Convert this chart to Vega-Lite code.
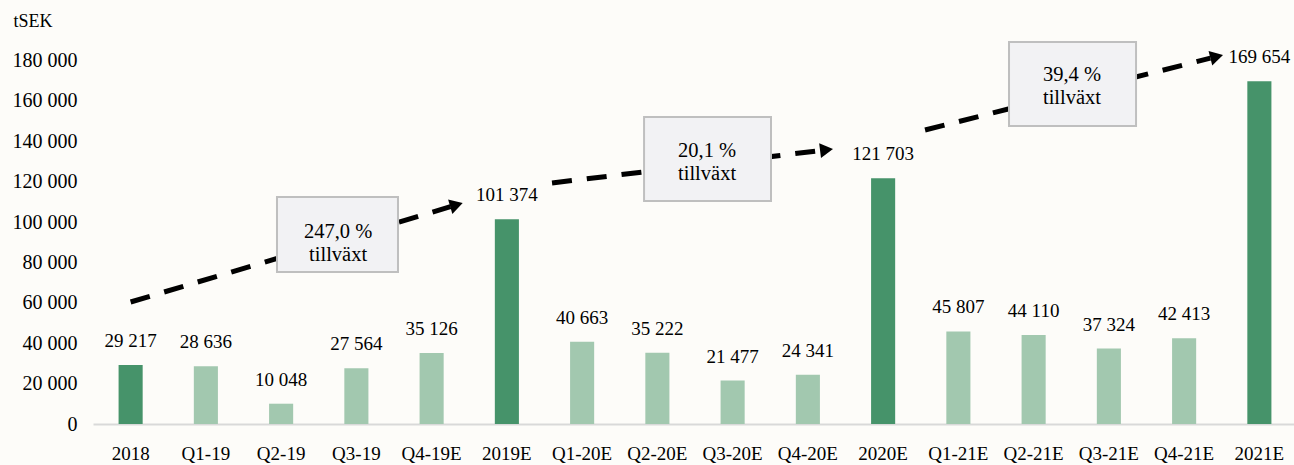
{
  "$schema": "https://vega.github.io/schema/vega-lite/v6.json",
  "autosize": "none",
  "width": 1201,
  "height": 404,
  "padding": {"left": 93, "top": 20, "right": 0, "bottom": 41},
  "background": "#fdfcf9",
  "config": {
    "view": {"stroke": null},
    "font": "Liberation Serif",
    "locale": {"number": {"decimal": ",", "thousands": " ", "grouping": [3], "currency": ["", " kr"]}}
  },
  "datasets": {
    "bars": [
      {"period": "2018", "kind": "År", "value": 29217},
      {"period": "Q1-19", "kind": "Kvartal", "value": 28636},
      {"period": "Q2-19", "kind": "Kvartal", "value": 10048},
      {"period": "Q3-19", "kind": "Kvartal", "value": 27564},
      {"period": "Q4-19E", "kind": "Kvartal", "value": 35126},
      {"period": "2019E", "kind": "År", "value": 101374},
      {"period": "Q1-20E", "kind": "Kvartal", "value": 40663},
      {"period": "Q2-20E", "kind": "Kvartal", "value": 35222},
      {"period": "Q3-20E", "kind": "Kvartal", "value": 21477},
      {"period": "Q4-20E", "kind": "Kvartal", "value": 24341},
      {"period": "2020E", "kind": "År", "value": 121703},
      {"period": "Q1-21E", "kind": "Kvartal", "value": 45807},
      {"period": "Q2-21E", "kind": "Kvartal", "value": 44110},
      {"period": "Q3-21E", "kind": "Kvartal", "value": 37324},
      {"period": "Q4-21E", "kind": "Kvartal", "value": 42413},
      {"period": "2021E", "kind": "År", "value": 169654}
    ],
    "arrows": [
      {"id": 1, "xs": 0, "ys": 60396, "xe": 4.251, "ye": 107574, "hx": 4.33, "hy": 108450},
      {"id": 2, "xs": 5.6, "ys": 119307, "xe": 9.163, "ye": 135347, "hx": 9.248, "hy": 135743},
      {"id": 3, "xs": 10.557, "ys": 145545, "xe": 14.349, "ye": 181089, "hx": 14.433, "hy": 181881}
    ],
    "boxes": [
      {"label": "247,0 %\ntillväxt", "x1": 1.945, "x2": 3.553, "y1": 112376, "y2": 75248, "tx": 2.757, "ty": 95297},
      {"label": "20,1 %\ntillväxt", "x1": 6.823, "x2": 8.51, "y1": 151980, "y2": 110396, "tx": 7.66, "ty": 135149},
      {"label": "39,4 %\ntillväxt", "x1": 11.673, "x2": 13.361, "y1": 189109, "y2": 147525, "tx": 12.51, "ty": 172525}
    ]
  },
  "layer": [
    {
      "data": {"name": "bars"},
      "layer": [
        {
          "mark": {"type": "bar"},
          "encoding": {
            "x": {
              "field": "period", "type": "ordinal", "sort": null,
              "scale": {"range": [0, 1204], "paddingInner": 0.68, "paddingOuter": 0.34},
              "axis": {
                "title": null, "labelAngle": 0, "labelFontSize": 19, "labelColor": "#000000",
                "labelPadding": 20, "ticks": false, "domainColor": "#d9d9d9", "domainWidth": 2,
                "labelFont": "Liberation Serif"
              }
            },
            "y": {
              "field": "value", "type": "quantitative",
              "scale": {"domain": [0, 200000], "nice": false},
              "axis": {
                "values": [0, 20000, 40000, 60000, 80000, 100000, 120000, 140000, 160000, 180000],
                "format": ",d", "grid": false, "domain": false, "ticks": false,
                "labelFontSize": 20, "labelColor": "#000000", "labelPadding": 16, "labelFont": "Liberation Serif",
                "title": "tSEK", "titleAngle": 0, "titleAlign": "left", "titleBaseline": "middle",
                "titleX": -80, "titleY": 1, "titleFontSize": 18, "titleFontWeight": "normal",
                "titleColor": "#000000", "titleFont": "Liberation Serif"
              }
            },
            "color": {
              "field": "kind", "type": "nominal",
              "scale": {"domain": ["År", "Kvartal"], "range": ["#46936a", "#a2c8af"]},
              "legend": null
            }
          }
        },
        {
          "mark": {"type": "text", "baseline": "alphabetic", "dy": -18, "fontSize": 19, "color": "#000000", "font": "Liberation Serif"},
          "encoding": {
            "x": {"field": "period", "type": "ordinal", "sort": null,
                  "scale": {"range": [0, 1204], "paddingInner": 0.68, "paddingOuter": 0.34}},
            "y": {"field": "value", "type": "quantitative"},
            "text": {"field": "value", "type": "quantitative", "format": ",d"}
          }
        }
      ]
    },
    {
      "layer": [
        {
          "data": {"name": "arrows"},
          "mark": {"type": "rule", "strokeWidth": 5, "strokeDash": [20, 15], "color": "#000000", "strokeCap": "butt"},
          "encoding": {
            "x": {"field": "xs", "type": "quantitative", "scale": {"domain": [-0.5, 15.5], "range": [0, 1204], "nice": false, "zero": false}, "axis": null},
            "x2": {"field": "xe"},
            "y": {"field": "ys", "type": "quantitative", "axis": null},
            "y2": {"field": "ye"}
          }
        },
        {
          "data": {"name": "arrows"},
          "transform": [{"filter": "datum.id == 1"}],
          "mark": {"type": "point", "shape": "triangle-right", "filled": true, "size": 225, "color": "#000000", "opacity": 1, "angle": 343.4},
          "encoding": {
            "x": {"field": "hx", "type": "quantitative", "axis": null},
            "y": {"field": "hy", "type": "quantitative", "axis": null}
          }
        },
        {
          "data": {"name": "arrows"},
          "transform": [{"filter": "datum.id == 2"}],
          "mark": {"type": "point", "shape": "triangle-right", "filled": true, "size": 225, "color": "#000000", "opacity": 1, "angle": 353.1},
          "encoding": {
            "x": {"field": "hx", "type": "quantitative", "axis": null},
            "y": {"field": "hy", "type": "quantitative", "axis": null}
          }
        },
        {
          "data": {"name": "arrows"},
          "transform": [{"filter": "datum.id == 3"}],
          "mark": {"type": "point", "shape": "triangle-right", "filled": true, "size": 225, "color": "#000000", "opacity": 1, "angle": 345.9},
          "encoding": {
            "x": {"field": "hx", "type": "quantitative", "axis": null},
            "y": {"field": "hy", "type": "quantitative", "axis": null}
          }
        },
        {
          "data": {"name": "boxes"},
          "mark": {"type": "rect", "fill": "#f2f2f4", "stroke": "#bfbfbf", "strokeWidth": 2},
          "encoding": {
            "x": {"field": "x1", "type": "quantitative", "axis": null},
            "x2": {"field": "x2"},
            "y": {"field": "y1", "type": "quantitative", "axis": null},
            "y2": {"field": "y2"}
          }
        },
        {
          "data": {"name": "boxes"},
          "mark": {"type": "text", "lineBreak": "\n", "lineHeight": 23, "fontSize": 20.5, "color": "#000000", "font": "Liberation Serif", "baseline": "middle", "align": "center"},
          "encoding": {
            "x": {"field": "tx", "type": "quantitative", "axis": null},
            "y": {"field": "ty", "type": "quantitative", "axis": null},
            "text": {"field": "label", "type": "nominal"}
          }
        }
      ]
    }
  ],
  "resolve": {"scale": {"x": "independent"}, "axis": {"y": "independent"}}
}
